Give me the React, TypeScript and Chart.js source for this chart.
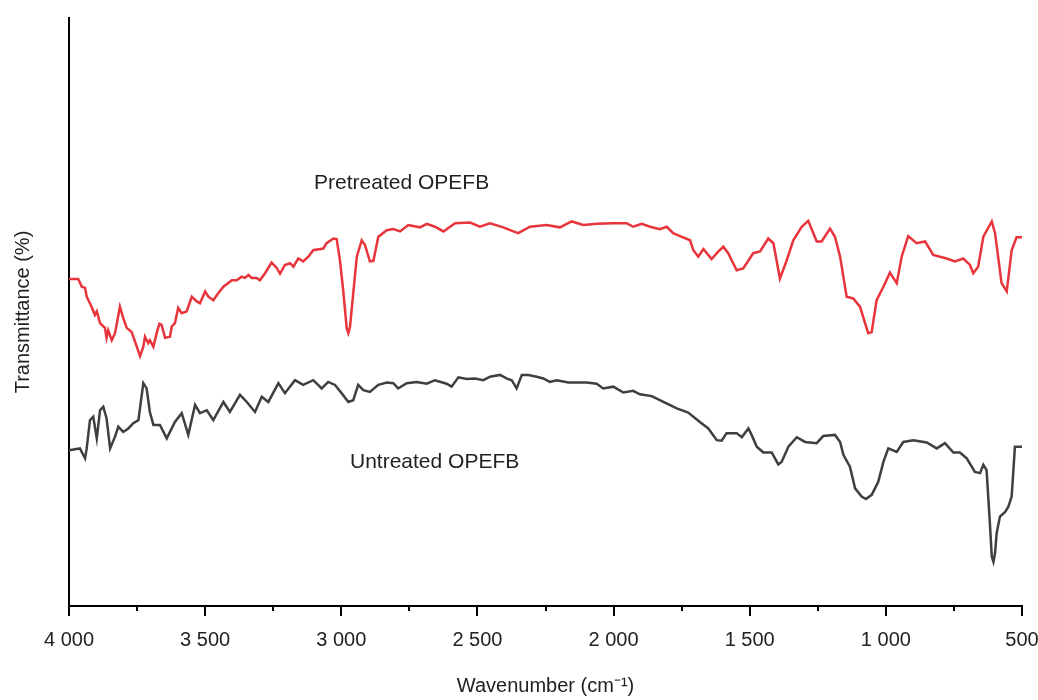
import { useEffect, useRef } from "react";
import { Chart, registerables } from "chart.js";

Chart.register(...registerables);

// Wavenumber (cm-1) and transmittance (arbitrary %, offset spectra)
const pretreatedWavenumber = [
  4000, 3966, 3953, 3941, 3935, 3917, 3905, 3898, 3886, 3868, 3862, 3856, 3843, 3831, 3813, 3801,
  3788, 3770, 3751, 3739, 3727, 3721, 3709, 3703, 3690, 3678, 3668, 3660, 3647, 3629, 3623, 3611,
  3599, 3586, 3568, 3549, 3531, 3519, 3500, 3488, 3470, 3452, 3433, 3402, 3384, 3366, 3354, 3341,
  3329, 3311, 3299, 3280, 3256, 3237, 3225, 3207, 3188, 3176, 3158, 3140, 3121, 3103, 3066, 3054,
  3029, 3017, 3005, 2993, 2980, 2974, 2968, 2956, 2943, 2925, 2913, 2895, 2882, 2864, 2833, 2809,
  2784, 2754, 2711, 2686, 2656, 2625, 2582, 2527, 2491, 2454, 2405, 2368, 2350, 2307, 2246, 2197,
  2154, 2111, 2062, 2001, 1952, 1928, 1897, 1866, 1830, 1805, 1781, 1756, 1719, 1707, 1689, 1670,
  1640, 1615, 1597, 1579, 1548, 1524, 1487, 1462, 1432, 1413, 1389, 1364, 1340, 1309, 1285, 1254,
  1236, 1205, 1187, 1168, 1144, 1120, 1095, 1065, 1052, 1034, 1009, 985, 960, 942, 918, 887,
  856, 826, 777, 746, 716, 691, 679, 661, 642, 611, 599, 575, 556, 538, 520, 500,
];
const pretreatedT = [
  55.6, 55.6, 54.3, 54.1, 52.6, 50.9, 49.5, 50.1, 48.1, 47.3, 45.6, 46.9, 45.2, 46.4, 50.9, 49.0,
  47.3, 46.6, 44.1, 42.5, 44.1, 45.8, 44.7, 45.2, 44.1, 46.4, 48.0, 47.8, 45.6, 45.8, 47.5, 48.1,
  50.7, 49.8, 50.1, 52.6, 51.8, 51.5, 53.5, 52.6, 52.0, 53.2, 54.3, 55.4, 55.4, 56.0, 55.8, 56.3,
  55.8, 55.8, 55.4, 56.6, 58.4, 57.5, 56.5, 58.0, 58.3, 57.7, 59.1, 58.6, 59.4, 60.5, 60.8, 61.7,
  62.5, 62.4, 58.8, 53.7, 47.2, 46.4, 47.5, 53.2, 59.4, 62.2, 61.4, 58.6, 58.7, 62.8, 63.9, 64.1,
  63.7, 64.8, 64.4, 65.0, 64.5, 63.7, 65.1, 65.2, 64.5, 65.1, 64.4, 63.7, 63.4, 64.5, 64.8, 64.4,
  65.4, 64.8, 65.0, 65.1, 65.1, 64.5, 65.0, 64.5, 64.1, 64.5, 63.4, 62.9, 62.2, 60.5, 59.4, 60.7,
  59.0, 60.3, 61.1, 60.0, 57.1, 57.4, 60.0, 60.3, 62.5, 61.7, 55.7, 58.8, 62.2, 64.5, 65.5, 62.0,
  62.0, 64.2, 62.8, 59.4, 52.6, 52.3, 50.9, 46.4, 46.6, 52.0, 54.3, 56.7, 54.9, 59.4, 62.9, 61.7,
  62.0, 59.7, 59.1, 58.6, 59.1, 58.0, 56.6, 57.7, 62.8, 65.4, 63.4, 54.9, 53.5, 60.5, 62.7, 62.7,
];

const untreatedWavenumber = [
  4000, 3960, 3941, 3935, 3923, 3911, 3898, 3886, 3874, 3862, 3849, 3831, 3819, 3801, 3782, 3764,
  3745, 3727, 3715, 3703, 3690, 3666, 3641, 3611, 3586, 3562, 3537, 3519, 3494, 3470, 3433, 3409,
  3372, 3347, 3317, 3292, 3268, 3231, 3207, 3170, 3140, 3103, 3072, 3048, 3023, 2999, 2974, 2956,
  2938, 2919, 2895, 2864, 2833, 2809, 2791, 2760, 2723, 2686, 2656, 2613, 2595, 2570, 2539, 2509,
  2478, 2454, 2417, 2393, 2374, 2356, 2337, 2313, 2282, 2258, 2234, 2209, 2166, 2099, 2062, 2038,
  2001, 1964, 1928, 1903, 1860, 1817, 1768, 1726, 1683, 1652, 1621, 1603, 1585, 1548, 1529, 1505,
  1493, 1474, 1450, 1419, 1395, 1383, 1358, 1327, 1297, 1254, 1230, 1187, 1168, 1156, 1132, 1113,
  1089, 1073, 1052, 1028, 1009, 991, 960, 936, 899, 850, 813, 783, 752, 728, 703, 673,
  654, 642, 630, 624, 618, 611, 605, 599, 593, 581, 562, 550, 538, 532, 526, 500,
];
const untreatedT = [
  26.5, 26.8, 25.1, 26.8, 31.6, 32.2, 28.5, 33.3, 33.9, 31.9, 26.8, 28.8, 30.5, 29.6, 30.2, 31.1,
  31.6, 37.9, 37.0, 33.0, 30.8, 30.8, 28.5, 31.3, 32.8, 29.1, 34.2, 32.8, 33.3, 31.6, 34.7, 33.0,
  35.9, 34.7, 33.0, 35.6, 34.7, 37.9, 36.2, 38.4, 37.6, 38.4, 37.0, 38.1, 37.6, 36.2, 34.7, 35.0,
  37.6, 36.7, 36.4, 37.6, 38.0, 37.9, 37.0, 37.9, 38.1, 37.8, 38.4, 37.8, 37.3, 38.9, 38.6, 38.7,
  38.4, 39.0, 39.3, 38.7, 38.4, 37.0, 39.3, 39.3, 39.0, 38.7, 38.1, 38.4, 38.0, 38.0, 37.8, 37.0,
  37.3, 36.3, 36.6, 36.0, 35.7, 34.7, 33.6, 32.9, 31.3, 30.2, 28.2, 28.1, 29.4, 29.4, 28.7, 30.2,
  29.1, 27.1, 26.1, 26.1, 24.1, 24.5, 27.1, 28.7, 27.9, 27.7, 28.9, 29.1, 27.9, 25.7, 23.7, 20.0,
  18.6, 18.2, 18.9, 21.1, 24.5, 26.8, 26.2, 27.9, 28.2, 27.8, 26.8, 27.7, 26.1, 26.1, 25.1, 22.8,
  22.6, 24.0, 23.1, 18.6, 14.1, 8.4, 7.5, 9.0, 12.4, 15.2, 16.0, 16.9, 18.6, 22.8, 27.1, 27.1,
];

const xTickValues = [4000, 3500, 3000, 2500, 2000, 1500, 1000, 500];
const xTickLabels = ["4 000", "3 500", "3 000", "2 500", "2 000", "1 500", "1 000", "500"];
const xMinorTickValues = [3750, 3250, 2750, 2250, 1750, 1250, 750];

const seriesLabels = [
  { text: "Pretreated OPEFB", x: 3100, y: 71.9 },
  { text: "Untreated OPEFB", x: 2968, y: 24.5 },
];

const FONT = "'Liberation Sans', Arial, Helvetica, sans-serif";

export default function App() {
  const ref = useRef<HTMLCanvasElement | null>(null);

  useEffect(() => {
    if (!ref.current) return;
    const extras = {
      id: "extras",
      afterDraw(chart: any) {
        const { ctx } = chart;
        const xs = chart.scales.x;
        const ys = chart.scales.y;
        ctx.save();
        ctx.strokeStyle = "#000";
        ctx.lineWidth = 2;
        const yb = chart.chartArea.bottom;
        xMinorTickValues.forEach((v) => {
          const px = Math.round(xs.getPixelForValue(v));
          ctx.beginPath();
          ctx.moveTo(px, yb);
          ctx.lineTo(px, yb + 5);
          ctx.stroke();
        });
        ctx.fillStyle = "#222";
        ctx.font = `21px ${FONT}`;
        ctx.textAlign = "left";
        ctx.textBaseline = "middle";
        seriesLabels.forEach((l) => {
          ctx.fillText(l.text, xs.getPixelForValue(l.x), ys.getPixelForValue(l.y));
        });
        ctx.restore();
      },
    };

    const chart = new Chart(ref.current, {
      type: "line",
      data: {
        datasets: [
          {
            label: "Pretreated OPEFB",
            data: pretreatedWavenumber.map((w, i) => ({ x: w, y: pretreatedT[i] })),
            borderColor: "#e8353b",
            borderWidth: 2.5,
            pointRadius: 0,
            tension: 0,
            fill: false,
          },
          {
            label: "Untreated OPEFB",
            data: untreatedWavenumber.map((w, i) => ({ x: w, y: untreatedT[i] })),
            borderColor: "#3f3f3f",
            borderWidth: 2.5,
            pointRadius: 0,
            tension: 0,
            fill: false,
          },
        ],
      },
      options: {
        animation: false,
        responsive: false,
        maintainAspectRatio: false,
        layout: { padding: { top: 18, right: 16, left: 0, bottom: 0 } },
        plugins: {
          legend: { display: false },
          tooltip: { enabled: false },
        },
        scales: {
          x: {
            type: "linear",
            reverse: true,
            min: 500,
            max: 4000,
            afterBuildTicks: (scale: any) => {
              scale.ticks = xTickValues.map((v) => ({ value: v }));
            },
            afterFit: (scale: any) => {
              scale.height = 94;
              scale.paddingLeft = 0;
              scale.paddingRight = 0;
            },
            ticks: {
              autoSkip: false,
              maxRotation: 0,
              padding: 12,
              color: "#222",
              font: { family: FONT, size: 20 },
              callback: (v: any) => {
                const i = xTickValues.indexOf(Number(v));
                return i >= 0 ? xTickLabels[i] : "";
              },
            },
            grid: {
              display: true,
              drawOnChartArea: false,
              drawTicks: true,
              tickLength: 10,
              color: "#000",
              lineWidth: 2,
            },
            border: { display: true, color: "#000", width: 2 },
            title: {
              display: true,
              text: "Wavenumber (cm\u207B\u00B9)",
              color: "#222",
              font: { family: FONT, size: 20 },
              padding: { top: 0, bottom: 2 },
            },
          },
          y: {
            min: 0,
            max: 100,
            afterFit: (scale: any) => {
              scale.width = 69;
            },
            ticks: { display: false },
            grid: { display: false, drawTicks: false },
            border: { display: true, color: "#000", width: 2 },
            title: {
              display: true,
              text: "Transmittance (%)",
              color: "#222",
              font: { family: FONT, size: 20 },
              padding: { top: 11, bottom: 0 },
            },
          },
        },
      },
      plugins: [extras],
    });
    return () => chart.destroy();
  }, []);

  return (
    <div style={{ position: "absolute", left: 0, top: 0, width: 1038, height: 700, background: "#fff" }}>
      <canvas ref={ref} width={1038} height={700} style={{ width: 1038, height: 700 }} />
    </div>
  );
}
